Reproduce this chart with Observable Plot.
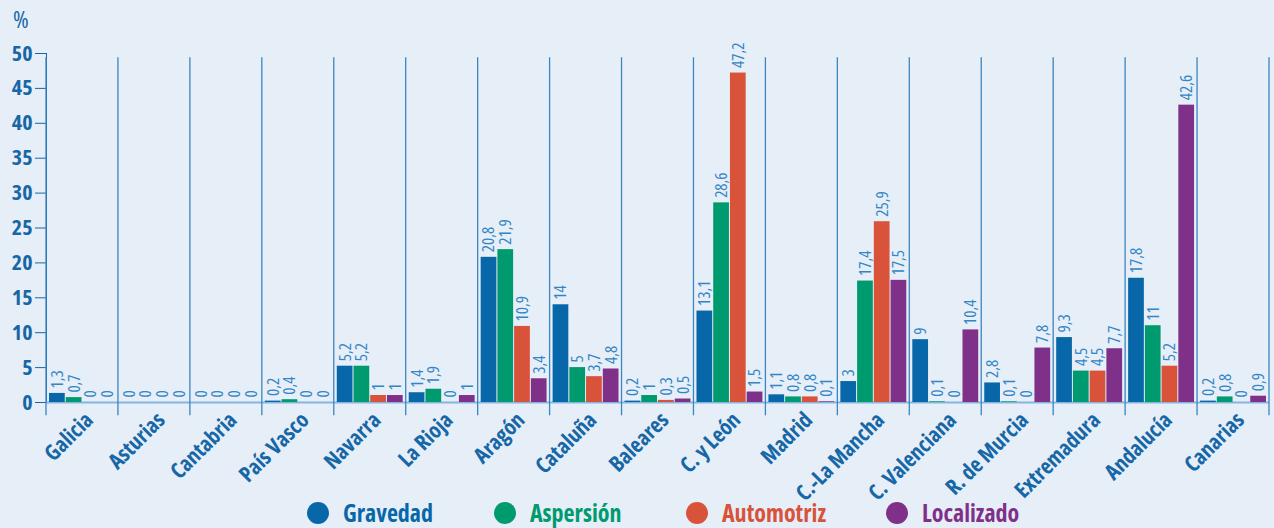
<!DOCTYPE html>
<html><head><meta charset="utf-8">
<script src="https://cdn.jsdelivr.net/npm/d3@7"></script>
<script src="https://cdn.jsdelivr.net/npm/@observablehq/plot@0.6"></script>
<style>
html,body{margin:0;padding:0;background:#e6eef8;}
body{width:1274px;height:528px;overflow:hidden;font-family:"Open Sans",sans-serif;font-stretch:75%;}
#unit{height:36px;box-sizing:border-box;padding:6px 0 0 13px;font-size:24px;line-height:26px;color:#1767a7;}
#chart svg{display:block;}
#legend{position:relative;height:38px;}
.item{position:absolute;top:9px;display:flex;align-items:center;font-weight:bold;font-size:24px;line-height:28px;height:28px;}
.dot{width:22px;height:22px;border-radius:50%;margin-right:14px;}
</style></head>
<body>
<div id="unit">%</div>
<div id="chart"></div>
<div id="legend"></div>
<script>
const regions = ["Galicia","Asturias","Cantabria","País Vasco","Navarra","La Rioja","Aragón","Cataluña","Baleares","C. y León","Madrid","C.-La Mancha","C. Valenciana","R. de Murcia","Extremadura","Andalucía","Canarias"];
const seriesNames = ["Gravedad","Aspersión","Automotriz","Localizado"];
const gravedad   = [1.3,0,0,0.2,5.2,1.4,20.8,14,0.2,13.1,1.1,3,9,2.8,9.3,17.8,0.2];
const aspersion  = [0.7,0,0,0.4,5.2,1.9,21.9,5,1,28.6,0.8,17.4,0.1,0.1,4.5,11,0.8];
const automotriz = [0,0,0,0,1,0,10.9,3.7,0.3,47.2,0.8,25.9,0,0,4.5,5.2,0];
const localizado = [0,0,0,0,1,1,3.4,4.8,0.5,1.5,0.1,17.5,10.4,7.8,7.7,42.6,0.9];
const colors = ["#0867a8","#009a6f","#d9523a","#7f3189"];
const yDomain = [0, 50];
const sepY = [-1.9, 49.4];
const legendLeft = [307, 494, 686, 886];

const FONT = '"Open Sans",sans-serif';
const AXIS = "#1767a7";
const valuesBySeries = [gravedad, aspersion, automotriz, localizado];
const table = [];
regions.forEach((r, i) => seriesNames.forEach((s, j) => table.push({region: r, series: s, value: valuesBySeries[j][i]})));
const fmt = v => String(v).replace(".", ",");

const plot = Plot.plot({
  width: 1274, height: 454,
  marginLeft: 46, marginRight: 5, marginTop: 17, marginBottom: 88,
  style: {background: "transparent", fontFamily: FONT, fontSize: "22px", fontWeight: "bold", color: AXIS, overflow: "visible", fontStretch: "75%"},
  fx: {domain: regions, padding: 0, round: false, axis: null},
  x: {domain: seriesNames, paddingInner: 0.06, paddingOuter: 0.18, round: false, axis: null},
  y: {domain: yDomain, ticks: 10, tickSize: 11, tickPadding: 3, label: null, line: true},
  color: {domain: seriesNames, range: colors},
  marks: [
    Plot.ruleY([0], {stroke: "#86b6dd", strokeWidth: 2}),
    Plot.barY(table, {fx: "region", x: "series", y: "value", fill: "series"}),
    Plot.text(table, {fx: "region", x: "series", y: "value", text: d => fmt(d.value), rotate: -90, textAnchor: "start", dy: -5, fill: "#3385c5", fontSize: 17, fontWeight: "normal"}),
    Plot.text(regions, {fx: d => d, text: d => d, frameAnchor: "bottom", rotate: -45, textAnchor: "end", lineAnchor: "middle", dx: 7, dy: 14, fill: AXIS, fontSize: 22, fontWeight: "bold"})
  ]
});
document.getElementById("chart").appendChild(plot);

const fxs = plot.scale("fx"), ys = plot.scale("y");
const [r0, r1] = fxs.range;
const step = (r1 - r0) / regions.length;
const yy = ys.apply ? sepY.map(v => ys.apply(v)) : sepY.map(v => ys.range[0] + (v - ys.domain[0]) / (ys.domain[1] - ys.domain[0]) * (ys.range[1] - ys.range[0]));
const svg = d3.select(plot);
svg.append("g").selectAll("line").data(d3.range(regions.length + 1)).join("line")
  .attr("x1", i => r0 + i * step).attr("x2", i => r0 + i * step)
  .attr("y1", yy[0]).attr("y2", yy[1])
  .attr("stroke", "#3b85c1").attr("stroke-width", 1.3);

const lg = d3.select("#legend");
seriesNames.forEach((s, i) => {
  const it = lg.append("div").attr("class", "item").style("left", legendLeft[i] + "px").style("color", colors[i]);
  it.append("div").attr("class", "dot").style("background", colors[i]);
  it.append("span").text(s);
});
</script>
</body></html>
